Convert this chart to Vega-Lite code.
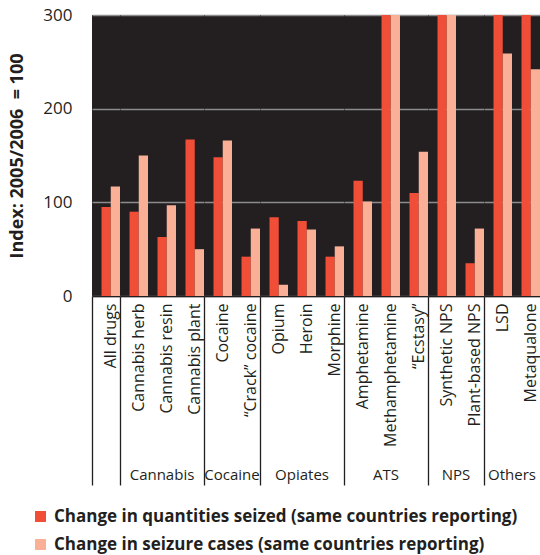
{
  "$schema": "https://vega.github.io/schema/vega-lite/v6.json",
  "padding": {"left": 8, "top": 6, "right": 0, "bottom": 5},
  "background": "white",
  "bounds": "flush",
  "config": {
    "font": "Open Sans",
    "view": {"fill": "#231f20", "stroke": null}
  },
  "data": {
    "values": [
      {"group": "", "drug": "All drugs", "series": "Change in quantities seized  (same countries reporting)", "value": 95},
      {"group": "", "drug": "All drugs", "series": "Change in seizure cases  (same countries reporting)", "value": 117},
      {"group": "Cannabis", "drug": "Cannabis herb", "series": "Change in quantities seized  (same countries reporting)", "value": 90},
      {"group": "Cannabis", "drug": "Cannabis herb", "series": "Change in seizure cases  (same countries reporting)", "value": 150},
      {"group": "Cannabis", "drug": "Cannabis resin", "series": "Change in quantities seized  (same countries reporting)", "value": 63},
      {"group": "Cannabis", "drug": "Cannabis resin", "series": "Change in seizure cases  (same countries reporting)", "value": 97},
      {"group": "Cannabis", "drug": "Cannabis plant", "series": "Change in quantities seized  (same countries reporting)", "value": 167},
      {"group": "Cannabis", "drug": "Cannabis plant", "series": "Change in seizure cases  (same countries reporting)", "value": 50},
      {"group": "Cocaine", "drug": "Cocaine", "series": "Change in quantities seized  (same countries reporting)", "value": 148},
      {"group": "Cocaine", "drug": "Cocaine", "series": "Change in seizure cases  (same countries reporting)", "value": 166},
      {"group": "Cocaine", "drug": "“Crack” cocaine", "series": "Change in quantities seized  (same countries reporting)", "value": 42},
      {"group": "Cocaine", "drug": "“Crack” cocaine", "series": "Change in seizure cases  (same countries reporting)", "value": 72},
      {"group": "Opiates", "drug": "Opium", "series": "Change in quantities seized  (same countries reporting)", "value": 84},
      {"group": "Opiates", "drug": "Opium", "series": "Change in seizure cases  (same countries reporting)", "value": 12},
      {"group": "Opiates", "drug": "Heroin", "series": "Change in quantities seized  (same countries reporting)", "value": 80},
      {"group": "Opiates", "drug": "Heroin", "series": "Change in seizure cases  (same countries reporting)", "value": 71},
      {"group": "Opiates", "drug": "Morphine", "series": "Change in quantities seized  (same countries reporting)", "value": 42},
      {"group": "Opiates", "drug": "Morphine", "series": "Change in seizure cases  (same countries reporting)", "value": 53},
      {"group": "ATS", "drug": "Amphetamine", "series": "Change in quantities seized  (same countries reporting)", "value": 123},
      {"group": "ATS", "drug": "Amphetamine", "series": "Change in seizure cases  (same countries reporting)", "value": 101},
      {"group": "ATS", "drug": "Methamphetamine", "series": "Change in quantities seized  (same countries reporting)", "value": 300},
      {"group": "ATS", "drug": "Methamphetamine", "series": "Change in seizure cases  (same countries reporting)", "value": 300},
      {"group": "ATS", "drug": "“Ecstasy”", "series": "Change in quantities seized  (same countries reporting)", "value": 110},
      {"group": "ATS", "drug": "“Ecstasy”", "series": "Change in seizure cases  (same countries reporting)", "value": 154},
      {"group": "NPS", "drug": "Synthetic NPS", "series": "Change in quantities seized  (same countries reporting)", "value": 300},
      {"group": "NPS", "drug": "Synthetic NPS", "series": "Change in seizure cases  (same countries reporting)", "value": 300},
      {"group": "NPS", "drug": "Plant-based NPS", "series": "Change in quantities seized  (same countries reporting)", "value": 35},
      {"group": "NPS", "drug": "Plant-based NPS", "series": "Change in seizure cases  (same countries reporting)", "value": 72},
      {"group": "Others", "drug": "LSD", "series": "Change in quantities seized  (same countries reporting)", "value": 300},
      {"group": "Others", "drug": "LSD", "series": "Change in seizure cases  (same countries reporting)", "value": 259},
      {"group": "Others", "drug": "Metaqualone", "series": "Change in quantities seized  (same countries reporting)", "value": 300},
      {"group": "Others", "drug": "Metaqualone", "series": "Change in seizure cases  (same countries reporting)", "value": 242}
    ]
  },
  "facet": {
    "column": {
      "field": "group",
      "type": "nominal",
      "sort": ["", "Cannabis", "Cocaine", "Opiates", "ATS", "NPS", "Others"],
      "header": {
        "labelOrient": "bottom",
        "title": null,
        "labelFontSize": 15,
        "labelFont": "Open Sans",
        "labelColor": "#231f20",
        "labelPadding": 172
      }
    }
  },
  "spacing": 0,
  "resolve": {"scale": {"x": "independent"}},
  "spec": {
    "width": {"step": 9.247},
    "height": 281,
    "mark": {"type": "bar"},
    "encoding": {
      "x": {
        "field": "drug",
        "type": "nominal",
        "sort": null,
        "scale": {"paddingInner": 0, "paddingOuter": 0},
        "axis": {
          "title": null,
          "labelAngle": -90,
          "labelAlign": "right",
          "labelBaseline": "middle",
          "labelFontSize": 16,
          "labelColor": "#231f20",
          "labelPadding": -182,
          "labelOffset": 4.75,
          "labelLimit": 0,
          "domainColor": "#231f20",
          "domainWidth": 1.5,
          "bandPosition": 0,
          "tickSize": 189,
          "tickWidth": 1.3,
          "tickColor": {
            "condition": {
              "test": "indexof(['All drugs','Cannabis herb','Cocaine','Opium','Amphetamine','Synthetic NPS','LSD'], datum.value) >= 0",
              "value": "#231f20"
            },
            "value": "transparent"
          },
          "grid": false
        }
      },
      "xOffset": {
        "field": "series",
        "type": "nominal",
        "sort": ["Change in quantities seized  (same countries reporting)", "Change in seizure cases  (same countries reporting)"],
        "scale": {"paddingInner": 0, "paddingOuter": 0.514, "align": 1}
      },
      "y": {
        "field": "value",
        "type": "quantitative",
        "scale": {"domain": [0, 300], "nice": false},
        "axis": {
          "title": "Index: 2005/2006 \u00a0= 100",
          "titleFontSize": 18,
          "titleFontWeight": "bold",
          "titleColor": "#231f20",
          "titlePadding": 16,
          "values": [0, 100, 200, 300],
          "labelFontSize": 17,
          "labelColor": "#231f20",
          "labelPadding": 20,
          "ticks": false,
          "domain": false,
          "grid": true,
          "gridColor": "#8c8c8c",
          "gridWidth": 1.5
        }
      },
      "color": {
        "field": "series",
        "type": "nominal",
        "scale": {
          "domain": ["Change in quantities seized  (same countries reporting)", "Change in seizure cases  (same countries reporting)"],
          "range": ["#f04e37", "#f9b096"]
        },
        "legend": {
          "orient": "none",
          "legendX": -60,
          "legendY": 493,
          "title": null,
          "symbolType": "square",
          "symbolSize": 120,
          "symbolStrokeWidth": 0,
          "symbolOpacity": 1,
          "labelFontSize": 17,
          "labelFontWeight": "bold",
          "labelColor": "#231f20",
          "labelLimit": 0,
          "rowPadding": 10,
          "labelOffset": 5
        }
      }
    }
  }
}
